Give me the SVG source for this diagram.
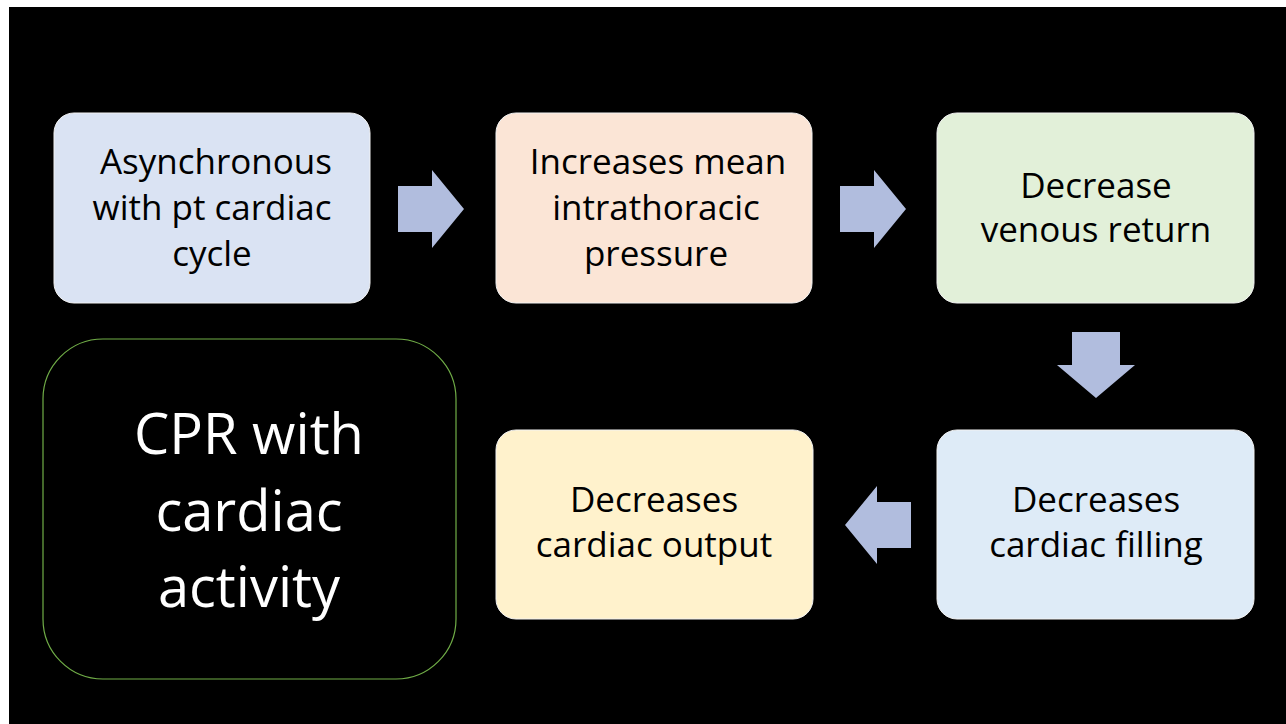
<svg xmlns="http://www.w3.org/2000/svg" width="1286" height="724" viewBox="0 0 1286 724">
<style>
.box{stroke:#f2f2f2;stroke-width:1}
.t{font-family:"Open Sans","Liberation Sans",sans-serif;font-size:35px;fill:#000;text-anchor:middle}
.big{font-family:"Open Sans","Liberation Sans",sans-serif;font-size:56px;fill:#fff;text-anchor:middle}
.arr{fill:#B1BDDE}
</style>
<rect x="0" y="0" width="1286" height="724" fill="#ffffff"/>
<rect x="9" y="7" width="1277" height="717" fill="#000000"/>
<g id="n1"><rect class="box" x="54" y="113" width="316" height="190" rx="20" fill="#DAE3F3"/>
<text class="t" x="216" y="174">Asynchronous</text><text class="t" x="212" y="220">with pt cardiac</text><text class="t" x="212" y="266">cycle</text></g>
<g id="n2"><rect class="box" x="496" y="113" width="316" height="190" rx="20" fill="#FBE5D6"/>
<text class="t" x="658" y="174">Increases mean</text><text class="t" x="656" y="220">intrathoracic</text><text class="t" x="656" y="266">pressure</text></g>
<g id="n3"><rect class="box" x="937" y="113" width="317" height="190" rx="20" fill="#E2F0D9"/>
<text class="t" x="1096" y="198">Decrease</text><text class="t" x="1096" y="242">venous return</text></g>
<g id="n4"><rect class="box" x="937" y="430" width="317" height="189" rx="20" fill="#DEEBF7"/>
<text class="t" x="1096" y="512">Decreases</text><text class="t" x="1096" y="557">cardiac filling</text></g>
<g id="n5"><rect class="box" x="496" y="430" width="317" height="189" rx="20" fill="#FFF2CC"/>
<text class="t" x="654" y="512">Decreases</text><text class="t" x="654" y="557">cardiac output</text></g>
<g id="n6"><rect x="43" y="339" width="413" height="340" rx="60" fill="#000" stroke="#70AD47" stroke-width="1.2"/>
<text class="big" x="249" y="454">CPR with</text><text class="big" x="249" y="531">cardiac</text><text class="big" x="249" y="607">activity</text></g>
<g id="connectors">
<polygon class="arr" points="398,186 432,186 432,170 464,209 432,248 432,232 398,232"/>
<polygon class="arr" points="840,186 874,186 874,170 906,209 874,248 874,232 840,232"/>
<polygon class="arr" points="1072,332 1120,332 1120,365 1135,365 1096,398 1057,365 1072,365"/>
<polygon class="arr" points="911,502 877,502 877,486 845,525 877,564 877,548 911,548"/>
</g>
</svg>
